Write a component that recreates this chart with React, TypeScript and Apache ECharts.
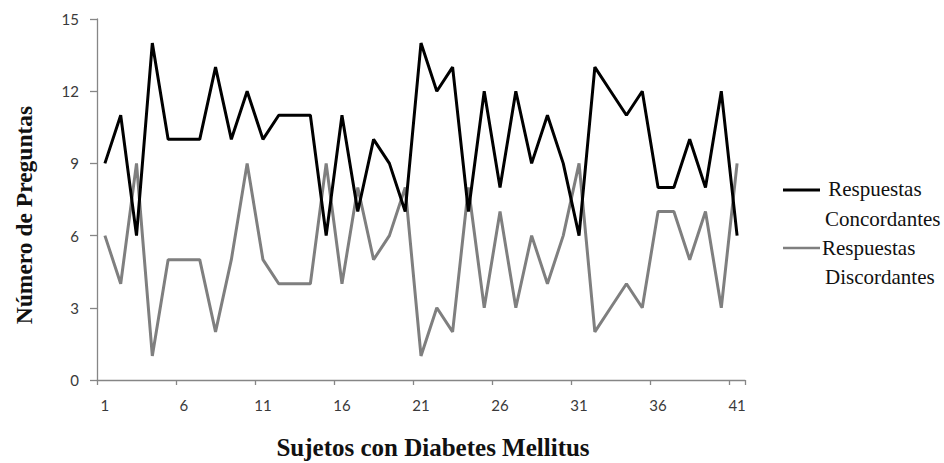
import React, { useEffect, useRef } from "react";
import * as echarts from "echarts";

const sujetos: string[] = Array.from({ length: 41 }, (_, i) => String(i + 1));

const concordantes: number[] = [
  9, 11, 6, 14, 10, 10, 10, 13, 10, 12,
  10, 11, 11, 11, 6, 11, 7, 10, 9, 7,
  14, 12, 13, 7, 12, 8, 12, 9, 11, 9,
  6, 13, 12, 11, 12, 8, 8, 10, 8, 12, 6,
];

const discordantes: number[] = [
  6, 4, 9, 1, 5, 5, 5, 2, 5, 9,
  5, 4, 4, 4, 9, 4, 8, 5, 6, 8,
  1, 3, 2, 8, 3, 7, 3, 6, 4, 6,
  9, 2, 3, 4, 3, 7, 7, 5, 7, 3, 9,
];

const yTicks = { min: 0, max: 15, interval: 3 };

const serif = "'Liberation Serif', 'Times New Roman', serif";
const sans = "Lato, sans-serif";

const legendText = (x: number, y: number, text: string) => ({
  type: "text",
  x,
  y,
  style: {
    text,
    fontFamily: serif,
    fontSize: 21,
    fontWeight: "normal",
    fill: "#111111",
    textAlign: "left",
    textVerticalAlign: "middle",
  },
});

export default function App() {
  const ref = useRef<HTMLDivElement>(null);

  useEffect(() => {
    if (!ref.current) return;
    const chart = echarts.init(ref.current, undefined, { renderer: "svg" });
    chart.setOption({
      animation: false,
      backgroundColor: "#ffffff",
      grid: { left: 97, top: 19, right: 199, bottom: 83, containLabel: false },
      xAxis: {
        type: "category",
        data: sujetos,
        boundaryGap: true,
        axisLine: { lineStyle: { color: "#868686", width: 1.3 } },
        axisTick: { show: true, interval: 4, length: 5, lineStyle: { color: "#868686", width: 1.3 } },
        axisLabel: { interval: 4, margin: 17, fontSize: 15, color: "#3a3a3a", fontFamily: sans },
        splitLine: { show: false },
      },
      yAxis: {
        type: "value",
        min: yTicks.min,
        max: yTicks.max,
        interval: yTicks.interval,
        axisLine: { show: true, lineStyle: { color: "#868686", width: 1.3 } },
        axisTick: { show: true, length: 7, lineStyle: { color: "#868686", width: 1.3 } },
        axisLabel: { margin: 18, fontSize: 15, color: "#3a3a3a", fontFamily: sans },
        splitLine: { show: false },
      },
      series: [
        {
          name: "Respuestas Concordantes",
          type: "line",
          data: concordantes,
          symbol: "none",
          lineStyle: { color: "#000000", width: 3 },
          itemStyle: { color: "#000000" },
          z: 3,
        },
        {
          name: "Respuestas Discordantes",
          type: "line",
          data: discordantes,
          symbol: "none",
          lineStyle: { color: "#7f7f7f", width: 3 },
          itemStyle: { color: "#7f7f7f" },
          z: 2,
        },
      ],
      graphic: [
        {
          type: "text",
          x: 24,
          y: 215,
          rotation: Math.PI / 2,
          style: {
            text: "Número de Preguntas",
            fontFamily: serif,
            fontSize: 23.5,
            fontWeight: "bold",
            fill: "#111111",
            textAlign: "center",
            textVerticalAlign: "middle",
          },
        },
        {
          type: "text",
          x: 433,
          y: 447,
          style: {
            text: "Sujetos con Diabetes Mellitus",
            fontFamily: serif,
            fontSize: 25,
            fontWeight: "bold",
            fill: "#111111",
            textAlign: "center",
            textVerticalAlign: "middle",
          },
        },
        {
          type: "line",
          shape: { x1: 783, y1: 190, x2: 820, y2: 190 },
          style: { stroke: "#000000", lineWidth: 3 },
        },
        legendText(823, 189, " Respuestas"),
        legendText(825, 219, "Concordantes"),
        {
          type: "line",
          shape: { x1: 783, y1: 248, x2: 820, y2: 248 },
          style: { stroke: "#7f7f7f", lineWidth: 2.5 },
        },
        legendText(822, 248, "Respuestas"),
        legendText(825, 277, "Discordantes"),
      ],
    });
    return () => chart.dispose();
  }, []);

  return (
    <div
      ref={ref}
      style={{ position: "absolute", left: 0, top: 0, width: 944, height: 463 }}
    />
  );
}
